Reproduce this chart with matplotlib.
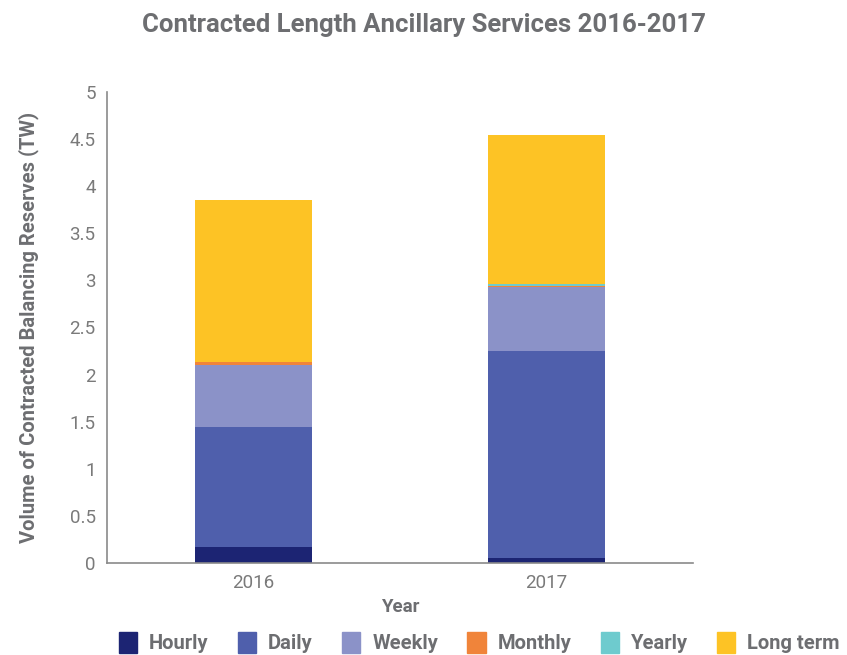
import numpy as np
import matplotlib.pyplot as plt
from matplotlib.patches import Patch

plt.rcParams['font.family'] = ['Roboto', 'DejaVu Sans']

years = ['2016', '2017']
series = ['Hourly', 'Daily', 'Weekly', 'Monthly', 'Yearly', 'Long term']
hourly = [0.17, 0.05]
daily = [1.27, 2.20]
weekly = [0.66, 0.68]
monthly = [0.03, 0.013]
yearly = [0.0, 0.02]
long_term = [1.72, 1.58]
colors = ['#1c2473', '#4f5fac', '#8b92c8', '#f0843a', '#6ecbce', '#fdc325']

values = [hourly, daily, weekly, monthly, yearly, long_term]
grey = '#6d6e71'

fig = plt.figure(figsize=(8.47, 6.55), dpi=100)
ax = fig.add_axes([0.126, 0.1405, 0.692, 0.719])

x = np.arange(len(years))
bottom = np.zeros(len(years))
for name, vals, c in zip(series, values, colors):
    ax.bar(x, vals, 0.4, bottom=bottom, color=c, label=name)
    bottom += np.array(vals)

ax.set_xlim(-0.5, 1.5)
ax.set_ylim(0, 5)
ax.set_yticks(np.arange(0, 5.01, 0.5))
ax.set_yticklabels(['0', '0.5', '1', '1.5', '2', '2.5', '3', '3.5', '4', '4.5', '5'])
ax.set_xticks(x)
ax.set_xticklabels(years)
ax.tick_params(length=0, colors='#7a7a7a', labelsize=13.5, pad=8)
for s in ['top', 'right']:
    ax.spines[s].set_visible(False)
for s in ['left', 'bottom']:
    ax.spines[s].set_color('#8a8a8a')
    ax.spines[s].set_linewidth(1.2)

ax.set_xlabel('Year', fontsize=13.5, fontweight='bold', color=grey, labelpad=4)
ax.set_ylabel('Volume of Contracted Balancing Reserves (TW)', fontsize=14.5,
              fontweight='bold', color=grey, labelpad=22)
fig.suptitle('Contracted Length Ancillary Services 2016-2017', fontsize=18.5,
             fontweight='bold', color=grey, y=0.98)

handles = [Patch(color=c) for c in colors]
fig.legend(handles, series, loc='lower center', ncol=6, frameon=False,
           bbox_to_anchor=(0.566, -0.025), handlelength=0.9,
           handleheight=1.2, columnspacing=1.45, handletextpad=0.6,
           prop={'weight': 'bold', 'size': 14.5})
for t in fig.legends[0].get_texts():
    t.set_color(grey)

fig.savefig('out.png', dpi=100)
